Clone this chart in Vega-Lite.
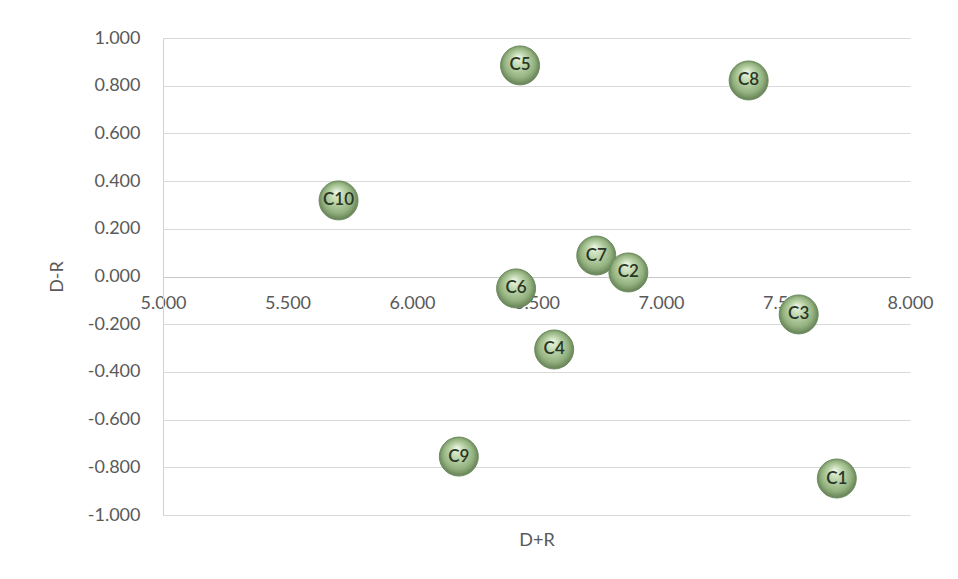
{
  "$schema": "https://vega.github.io/schema/vega-lite/v6.json",
  "width": 747,
  "height": 477,
  "autosize": {"type": "none"},
  "padding": {"left": 163, "top": 38, "right": 48, "bottom": 64},
  "background": "white",
  "config": {"font": "Lato", "view": {"stroke": null}},
  "data": {
    "values": [
      {"name": "C1", "dr_sum": 7.706, "dr_diff": -0.847},
      {"name": "C7", "dr_sum": 6.740, "dr_diff": 0.088},
      {"name": "C2", "dr_sum": 6.869, "dr_diff": 0.017},
      {"name": "C3", "dr_sum": 7.553, "dr_diff": -0.159},
      {"name": "C4", "dr_sum": 6.571, "dr_diff": -0.306},
      {"name": "C5", "dr_sum": 6.434, "dr_diff": 0.885},
      {"name": "C6", "dr_sum": 6.418, "dr_diff": -0.050},
      {"name": "C8", "dr_sum": 7.352, "dr_diff": 0.822},
      {"name": "C9", "dr_sum": 6.188, "dr_diff": -0.755},
      {"name": "C10", "dr_sum": 5.705, "dr_diff": 0.319}
    ]
  },
  "encoding": {
    "x": {
      "field": "dr_sum",
      "type": "quantitative",
      "scale": {"domain": [5, 8], "nice": false, "zero": false},
      "axis": {
        "title": "D+R",
        "offset": -238,
        "values": [5, 5.5, 6, 6.5, 7, 7.5, 8],
        "labelExpr": "replace(format(datum.value, '.3f'), '\u2212', '-')",
        "grid": false,
        "ticks": false,
        "domainColor": "#c8c8c8",
        "labelPadding": 17,
        "labelFontSize": 18,
        "labelColor": "#595959",
        "labelFlush": false,
        "labelOverlap": false,
        "titleY": 263,
        "titleBaseline": "middle",
        "titleFontWeight": "normal",
        "titleFontSize": 18,
        "titleColor": "#595959"
      }
    },
    "y": {
      "field": "dr_diff",
      "type": "quantitative",
      "scale": {"domain": [-1, 1], "nice": false, "zero": false},
      "axis": {
        "title": "D-R",
        "values": [-1, -0.8, -0.6, -0.4, -0.2, 0, 0.2, 0.4, 0.6, 0.8, 1],
        "labelExpr": "replace(format(datum.value, '.3f'), '\u2212', '-')",
        "grid": true,
        "gridColor": "#d9d9d9",
        "gridWidth": 1,
        "ticks": false,
        "domainColor": "#d0d0d0",
        "labelPadding": 23,
        "labelFontSize": 18,
        "labelColor": "#595959",
        "labelOverlap": false,
        "titleX": -106,
        "titleY": 238.5,
        "titleBaseline": "middle",
        "titleAlign": "center",
        "titleFontWeight": "normal",
        "titleFontSize": 18,
        "titleColor": "#595959"
      }
    }
  },
  "layer": [
    {
      "mark": {
        "type": "point",
        "shape": "circle",
        "filled": true,
        "size": 1520,
        "opacity": 1,
        "fill": {
          "gradient": "radial",
          "x1": 0.45, "y1": 0.28, "r1": 0,
          "x2": 0.5, "y2": 0.5, "r2": 0.55,
          "stops": [
            {"offset": 0, "color": "#f2f8ec"},
            {"offset": 0.3, "color": "#c3dab2"},
            {"offset": 0.7, "color": "#93b27f"},
            {"offset": 1, "color": "#58734b"}
          ]
        },
        "stroke": "#6f8c60",
        "strokeWidth": 1
      }
    },
    {
      "mark": {"type": "text", "fontSize": 17, "fontWeight": 600, "color": "#2a3524"},
      "encoding": {"text": {"field": "name"}}
    }
  ]
}
